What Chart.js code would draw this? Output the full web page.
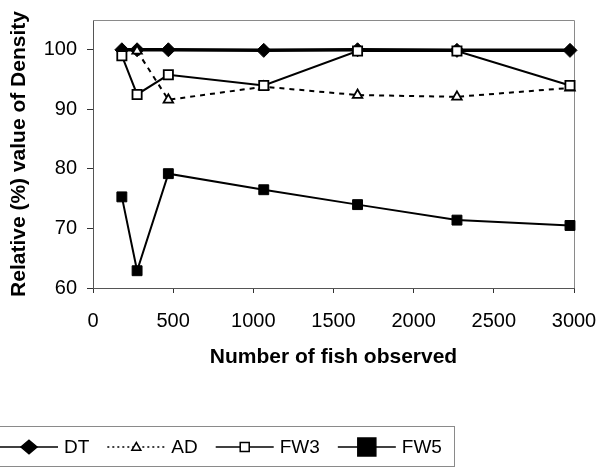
<!DOCTYPE html>
<html><head><meta charset="utf-8">
<script src="https://cdn.jsdelivr.net/npm/chart.js@4/dist/chart.umd.min.js"></script>
<style>html,body{margin:0;padding:0;background:#fff}#wrap{width:598px;height:470px;position:relative}</style>
</head><body><div id="wrap"><canvas id="c" width="598" height="470"></canvas></div>
<script>
const fishObserved = [180, 275, 470, 1065, 1650, 2270, 2975];
const dtValues  = [100, 100, 100, 99.9, 100, 99.9, 99.9];
const adValues  = [null, 99.8, 91.6, 93.8, 92.4, 92.1, 93.6];
const fw3Values = [99.0, 92.5, 95.8, 94.0, 99.8, 99.8, 94.0];
const fw5Values = [75.3, 62.9, 79.2, 76.5, 74.0, 71.4, 70.5];
const xTicks = [0, 500, 1000, 1500, 2000, 2500, 3000];
const yTicks = [60, 70, 80, 90, 100];
const seriesNames = ['DT', 'AD', 'FW3', 'FW5'];
const xTitle = 'Number of fish observed';
const yTitle = 'Relative (%) value of Density';

const FONT = "'Liberation Sans', Arial, sans-serif";
Chart.defaults.font.family = FONT;
Chart.defaults.color = '#000';

function pts(vals) { return fishObserved.map((x, i) => ({x: x, y: vals[i]})); }

const legendSpec = [
  {dash: [], width: 1.5, marker: 'diamond', size: 8, fill: '#000'},
  {dash: [2, 3], width: 1.5, marker: 'triangle', size: 4.5, fill: '#fff'},
  {dash: [], width: 1.5, marker: 'square', size: 4.5, fill: '#fff'},
  {dash: [], width: 1.5, marker: 'square', size: 9, fill: '#000'}
];

function drawMarker(ctx, type, x, y, s, fill) {
  ctx.save();
  ctx.setLineDash([]);
  ctx.fillStyle = fill; ctx.strokeStyle = '#000'; ctx.lineWidth = 1.5;
  ctx.beginPath();
  if (type === 'diamond') {
    ctx.moveTo(x, y - s * 0.85); ctx.lineTo(x + s, y); ctx.lineTo(x, y + s * 0.85); ctx.lineTo(x - s, y); ctx.closePath();
  } else if (type === 'triangle') {
    ctx.moveTo(x, y - s); ctx.lineTo(x + s, y + s * 0.7); ctx.lineTo(x - s, y + s * 0.7); ctx.closePath();
  } else {
    ctx.rect(x - s, y - s, 2 * s, 2 * s);
  }
  ctx.fill(); ctx.stroke();
  ctx.restore();
}

const frameAndLegend = {
  id: 'frameAndLegend',
  beforeDatasetsDraw(chart) {
    const {ctx, chartArea: a} = chart;
    ctx.save();
    ctx.strokeStyle = '#8a8a8a'; ctx.lineWidth = 1;
    ctx.beginPath();
    ctx.moveTo(a.left, a.top + 0.5); ctx.lineTo(a.right + 0.5, a.top + 0.5); ctx.lineTo(a.right + 0.5, a.bottom);
    ctx.stroke();
    ctx.restore();
  },
  afterDraw(chart) {
    const ctx = chart.ctx;
    ctx.save();
    ctx.strokeStyle = '#8a8a8a'; ctx.lineWidth = 1;
    ctx.strokeRect(-2, 426.5, 456.5, 40);
    ctx.font = '19px ' + FONT;
    ctx.fillStyle = '#000';
    ctx.textBaseline = 'middle';
    const cy = 447;
    let x = 0;
    chart.data.datasets.forEach((ds, i) => {
      const sp = legendSpec[i];
      const lineLen = 58;
      ctx.save();
      ctx.strokeStyle = '#000'; ctx.lineWidth = sp.width; ctx.setLineDash(sp.dash);
      ctx.beginPath(); ctx.moveTo(x, cy); ctx.lineTo(x + lineLen, cy); ctx.stroke();
      ctx.restore();
      drawMarker(ctx, sp.marker, x + lineLen / 2, cy, sp.size, sp.fill);
      const tx = x + lineLen + 6;
      ctx.fillText(ds.label, tx, cy + 1);
      x = tx + ctx.measureText(ds.label).width + 18;
    });
    ctx.restore();
  }
};

new Chart(document.getElementById('c'), {
  type: 'line',
  data: {
    datasets: [
      {label: seriesNames[0], data: pts(dtValues), borderColor: '#000', borderWidth: 3.5,
       pointStyle: 'rectRot', pointRadius: 7, pointBackgroundColor: '#000', pointBorderColor: '#000', pointBorderWidth: 1, order: 4, clip: false},
      {label: seriesNames[1], data: pts(adValues), borderColor: '#000', borderWidth: 2, borderDash: [5, 5],
       pointStyle: 'triangle', pointRadius: 5.5, pointBackgroundColor: '#fff', pointBorderColor: '#000', pointBorderWidth: 1.8, order: 3, clip: false},
      {label: seriesNames[2], data: pts(fw3Values), borderColor: '#000', borderWidth: 2,
       pointStyle: 'rect', pointRadius: 6.5, pointBackgroundColor: '#fff', pointBorderColor: '#000', pointBorderWidth: 1.8, order: 2, clip: false},
      {label: seriesNames[3], data: pts(fw5Values), borderColor: '#000', borderWidth: 2,
       pointStyle: 'rect', pointRadius: 7, pointBackgroundColor: '#000', pointBorderColor: '#000', pointBorderWidth: 1, order: 1, clip: false}
    ]
  },
  options: {
    responsive: false,
    animation: false,
    devicePixelRatio: 1,
    layout: {padding: {top: 20, right: 24, bottom: 92, left: 0}},
    plugins: {legend: {display: false}, tooltip: {enabled: false}},
    elements: {line: {tension: 0}},
    scales: {
      x: {
        type: 'linear', min: 0, max: 3000,
        afterBuildTicks: s => { s.ticks = xTicks.map(v => ({value: v})); },
        afterFit: s => { s.height = 90; s.paddingLeft = 0; s.paddingRight = 0; },
        ticks: {font: {size: 20}, color: '#000', padding: 16, maxRotation: 0, autoSkip: false, callback: v => String(v)},
        grid: {drawOnChartArea: false, drawTicks: true, tickLength: 5, color: '#333'},
        border: {display: true, color: '#555', width: 1},
        title: {display: true, text: xTitle, font: {size: 21, weight: 'bold'}, color: '#000', padding: {top: 0, bottom: 8}}
      },
      y: {
        type: 'linear', min: 60, max: 105,
        afterBuildTicks: s => { s.ticks = yTicks.map(v => ({value: v})); },
        afterFit: s => { s.width = 93; s.paddingTop = 0; s.paddingBottom = 0; },
        ticks: {font: {size: 20}, color: '#000', padding: 10, callback: v => String(v)},
        grid: {drawOnChartArea: false, drawTicks: true, tickLength: 6, color: '#333'},
        border: {display: true, color: '#555', width: 1},
        title: {display: true, text: yTitle, font: {size: 21, weight: 'bold'}, color: '#000', padding: {top: 7, bottom: 0}}
      }
    }
  },
  plugins: [frameAndLegend]
});
</script>
</body></html>
